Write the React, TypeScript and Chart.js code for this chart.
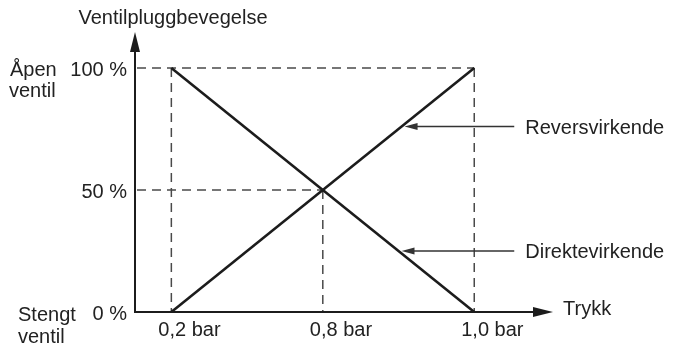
import React, { useEffect, useRef } from "react";
import { Chart, registerables } from "chart.js";

Chart.register(...registerables);

// ---- data ----
const pressurePositions = [0, 1, 2];
const pressureLabels = ["0,2 bar", "0,8 bar", "1,0 bar"];
const travelTicks = [0, 50, 100];
const travelLabels = ["0 %", "50 %", "100 %"];
const reverseActing = [0, 50, 100];
const directActing = [100, 50, 0];
const seriesNames = ["Reversvirkende", "Direktevirkende"];
const noteLevels = [76, 25];
const xAxisTitle = "Trykk";
const yAxisTitle = "Ventilpluggbevegelse";
const openLabel = ["Åpen", "ventil"];
const closedLabel = ["Stengt", "ventil"];

const FONT = '20px "Liberation Sans", Arial, sans-serif';
const TEXT = "#222222";
const INK = "#1c1c1c";

function interpX(values: number[], level: number): number {
  for (let i = 0; i < values.length - 1; i++) {
    const a = values[i], b = values[i + 1];
    if ((level - a) * (level - b) <= 0 && a !== b) {
      const t = (level - a) / (b - a);
      return pressurePositions[i] + t * (pressurePositions[i + 1] - pressurePositions[i]);
    }
  }
  return pressurePositions[0];
}

const diagramPlugin = {
  id: "diagram",
  beforeDatasetsDraw(chart: any) {
    const { ctx } = chart;
    const x = chart.scales.x;
    const y = chart.scales.y;
    ctx.save();
    ctx.strokeStyle = "#4a4a4a";
    ctx.lineWidth = 1.5;
    ctx.setLineDash([9, 6]);
    travelTicks.forEach((v) => {
      if (v === 0) return;
      let maxX = -Infinity;
      pressurePositions.forEach((p, i) => {
        if (reverseActing[i] === v || directActing[i] === v) maxX = Math.max(maxX, p);
      });
      if (maxX === -Infinity) return;
      const py = y.getPixelForValue(v);
      ctx.beginPath();
      ctx.moveTo(x.left + 2, py);
      ctx.lineTo(x.getPixelForValue(maxX), py);
      ctx.stroke();
    });
    pressurePositions.forEach((p, i) => {
      const top = Math.max(reverseActing[i], directActing[i]);
      const px = x.getPixelForValue(p);
      ctx.beginPath();
      ctx.moveTo(px, y.getPixelForValue(top));
      ctx.lineTo(px, y.getPixelForValue(0));
      ctx.stroke();
    });
    ctx.restore();
  },
  afterDatasetsDraw(chart: any) {
    const { ctx } = chart;
    const x = chart.scales.x;
    const y = chart.scales.y;
    const ax = x.left;
    const ay = y.getPixelForValue(0);
    ctx.save();
    // axes
    ctx.strokeStyle = INK;
    ctx.fillStyle = INK;
    ctx.lineWidth = 2;
    ctx.setLineDash([]);
    ctx.beginPath();
    ctx.moveTo(ax, ay + 1);
    ctx.lineTo(ax, y.top + 18);
    ctx.stroke();
    ctx.beginPath();
    ctx.moveTo(ax, y.top);
    ctx.lineTo(ax - 5, y.top + 20);
    ctx.lineTo(ax + 5, y.top + 20);
    ctx.closePath();
    ctx.fill();
    ctx.beginPath();
    ctx.moveTo(ax - 1, ay);
    ctx.lineTo(x.right - 18, ay);
    ctx.stroke();
    ctx.beginPath();
    ctx.moveTo(x.right, ay);
    ctx.lineTo(x.right - 20, ay - 5);
    ctx.lineTo(x.right - 20, ay + 5);
    ctx.closePath();
    ctx.fill();

    // texts
    ctx.fillStyle = TEXT;
    ctx.font = FONT;
    ctx.textBaseline = "alphabetic";
    ctx.textAlign = "center";
    ctx.fillText(yAxisTitle, ax + 38, 24);
    ctx.textAlign = "left";
    ctx.fillText(xAxisTitle, x.right + 10, ay + 3);

    ctx.textAlign = "right";
    travelTicks.forEach((v, i) => {
      ctx.fillText(travelLabels[i], ax - 8, y.getPixelForValue(v) + 8);
    });
    ctx.textAlign = "left";
    const yTop = y.getPixelForValue(100);
    ctx.fillText(openLabel[0], 10, yTop + 8);
    ctx.fillText(openLabel[1], 9, yTop + 29);
    ctx.fillText(closedLabel[0], 18, ay + 9);
    ctx.fillText(closedLabel[1], 18, ay + 31);

    pressurePositions.forEach((p, i) => {
      ctx.fillText(pressureLabels[i], x.getPixelForValue(p) - 13, ay + 24);
    });

    // annotations
    const series = [reverseActing, directActing];
    const xEnd = x.getPixelForValue(pressurePositions[pressurePositions.length - 1]);
    series.forEach((vals, k) => {
      const py = y.getPixelForValue(noteLevels[k]);
      const tip = x.getPixelForValue(interpX(vals, noteLevels[k])) + 3;
      const tail = xEnd + 40;
      ctx.strokeStyle = "#333";
      ctx.fillStyle = "#333";
      ctx.lineWidth = 1.4;
      ctx.beginPath();
      ctx.moveTo(tail, py);
      ctx.lineTo(tip + 10, py);
      ctx.stroke();
      ctx.beginPath();
      ctx.moveTo(tip, py);
      ctx.lineTo(tip + 13, py - 3.5);
      ctx.lineTo(tip + 13, py + 3.5);
      ctx.closePath();
      ctx.fill();
      ctx.fillStyle = TEXT;
      ctx.fillText(seriesNames[k], xEnd + 51, py + 7);
    });
    ctx.restore();
  },
};

export default function App() {
  const ref = useRef<HTMLCanvasElement | null>(null);
  useEffect(() => {
    if (!ref.current) return;
    const chart = new Chart(ref.current, {
      type: "line",
      data: {
        datasets: [
          {
            label: seriesNames[0],
            data: pressurePositions.map((p, i) => ({ x: p, y: reverseActing[i] })),
            borderColor: INK,
            borderWidth: 2.6,
            pointRadius: 0,
            tension: 0,
          },
          {
            label: seriesNames[1],
            data: pressurePositions.map((p, i) => ({ x: p, y: directActing[i] })),
            borderColor: INK,
            borderWidth: 2.6,
            pointRadius: 0,
            tension: 0,
          },
        ],
      },
      options: {
        responsive: false,
        animation: false,
        layout: { padding: { left: 135, right: 121, top: 32, bottom: 34 } },
        scales: {
          x: { type: "linear", display: false, min: -0.24, max: 2.52 },
          y: { type: "linear", display: false, min: 0, max: 114.75 },
        },
        plugins: { legend: { display: false }, tooltip: { enabled: false } },
      },
      plugins: [diagramPlugin],
    });
    return () => chart.destroy();
  }, []);
  return (
    <div style={{ position: "fixed", left: 0, top: 0, width: 674, height: 346, background: "#fff" }}>
      <canvas ref={ref} width={674} height={346} style={{ width: 674, height: 346 }} />
    </div>
  );
}
